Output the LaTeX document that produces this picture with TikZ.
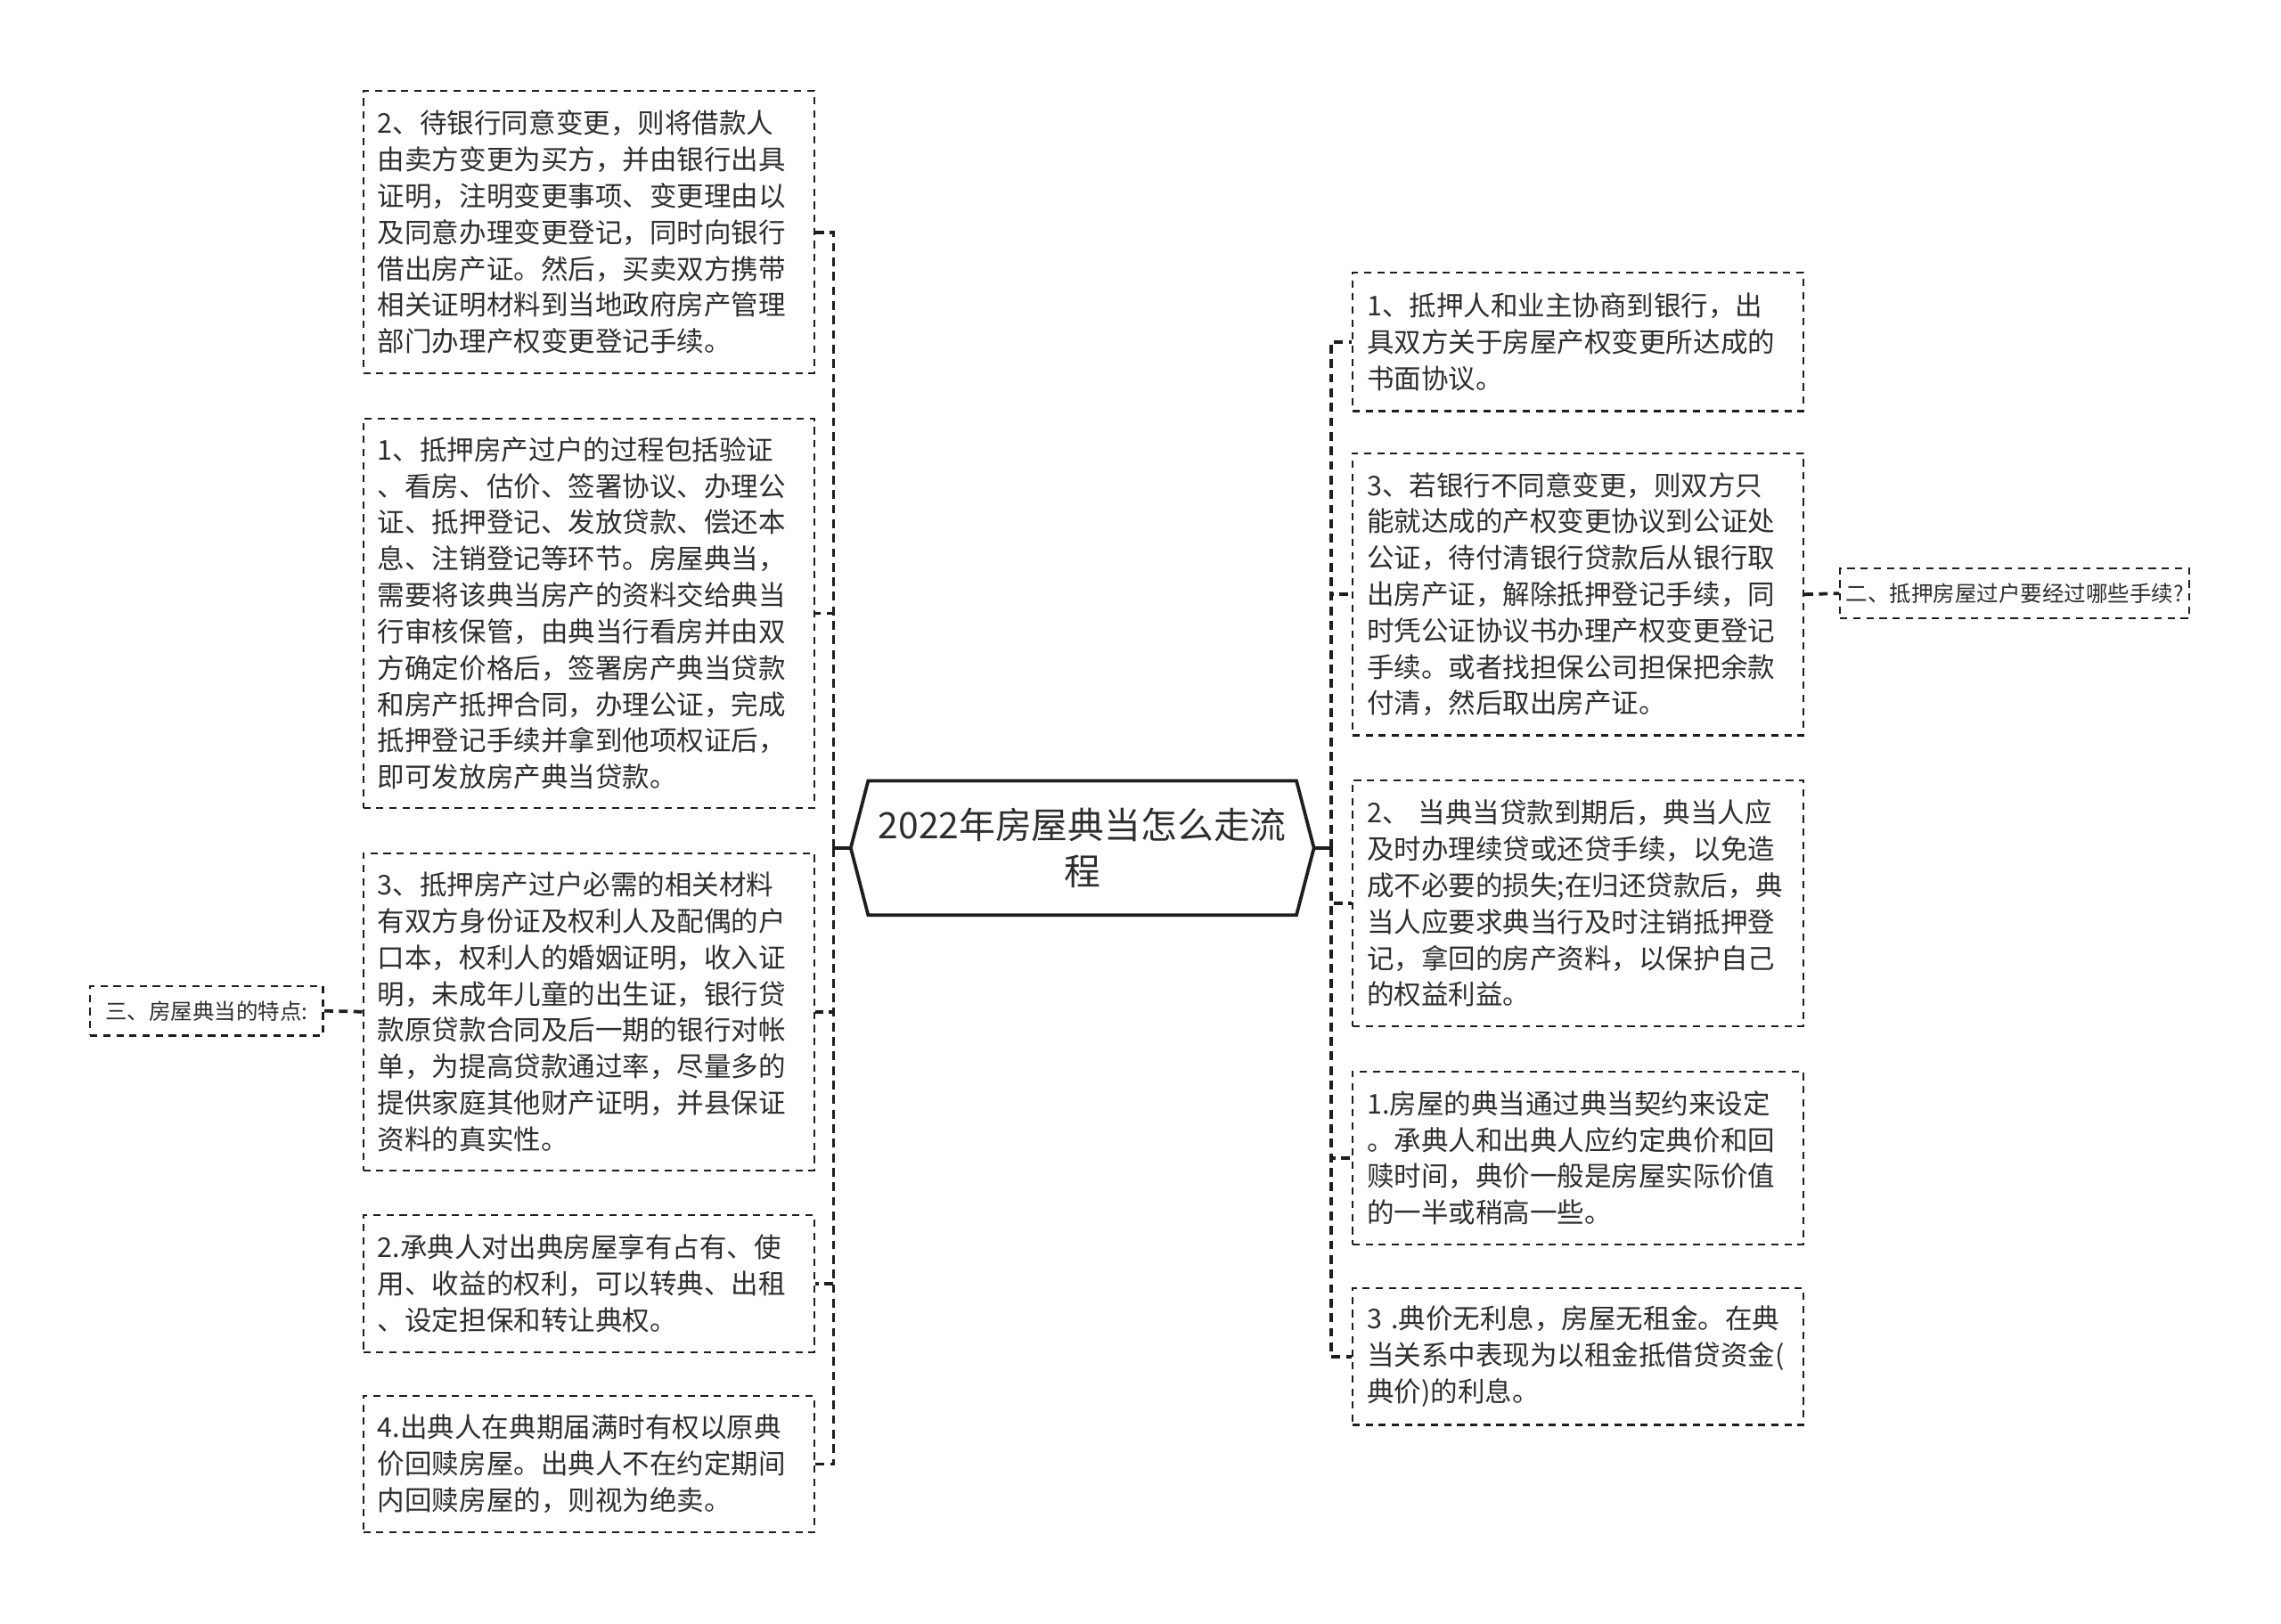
\documentclass[tikz,border=0pt]{standalone}
\usepackage{fontspec}
\setmainfont{Noto Sans CJK SC}
\definecolor{ink}{HTML}{2E2E2E}
\definecolor{edge}{HTML}{1E1E1E}

\begin{document}
\begin{tikzpicture}[x=1pt, y=-1pt,
    topic/.style={minimum width=294pt, minimum height=92pt, inner xsep=0pt, align=center, text=ink, font=\fontsize{25}{32}\selectfont},
    leaf/.style={draw=edge, line width=1.3pt, dash pattern=on 5pt off 4pt, anchor=north west, text width=290pt, inner xsep=10pt, inner ysep=0pt, minimum height=#1, align=left, text=ink, font=\fontsize{18.7}{25}\selectfont},
    tag/.style={draw=edge, line width=1.3pt, dash pattern=on 5pt off 4pt, minimum width=#1, minimum height=34pt, inner xsep=0pt, text=ink, font=\fontsize{15}{18}\selectfont},
    bus/.style={draw=edge, line width=2.3pt, dash pattern=on 6pt off 4pt},
    link/.style={draw=edge, line width=2.3pt}
]
    \useasboundingbox (0,0) rectangle (1568,1116);

    % 中心主题
    \node[topic] (ctr) at (744, 583) {2022年房屋典当怎么走流\\程};
    \coordinate (tipL) at ([xshift=-12pt]ctr.west);
    \coordinate (tipR) at ([xshift=12pt]ctr.east);
    \draw[link, line join=miter] (ctr.north west) -- (ctr.north east) -- (tipR) -- (ctr.south east) -- (ctr.south west) -- (tipL) -- cycle;

    % 左侧
    \node[leaf=194pt] (l1) at (249, 62) {2、待银行同意变更，则将借款人\\由卖方变更为买方，并由银行出具\\证明，注明变更事项、变更理由以\\及同意办理变更登记，同时向银行\\借出房产证。然后，买卖双方携带\\相关证明材料到当地政府房产管理\\部门办理产权变更登记手续。};
    \node[leaf=268pt] (l2) at (249, 287) {1、抵押房产过户的过程包括验证\\、看房、估价、签署协议、办理公\\证、抵押登记、发放贷款、偿还本\\息、注销登记等环节。房屋典当，\\需要将该典当房产的资料交给典当\\行审核保管，由典当行看房并由双\\方确定价格后，签署房产典当贷款\\和房产抵押合同，办理公证，完成\\抵押登记手续并拿到他项权证后，\\即可发放房产典当贷款。};
    \node[leaf=218pt] (l3) at (249, 586) {3、抵押房产过户必需的相关材料\\有双方身份证及权利人及配偶的户\\口本，权利人的婚姻证明，收入证\\明，未成年儿童的出生证，银行贷\\款原贷款合同及后一期的银行对帐\\单，为提高贷款通过率，尽量多的\\提供家庭其他财产证明，并县保证\\资料的真实性。};
    \node[leaf=94pt] (l4) at (249, 835) {2.承典人对出典房屋享有占有、使\\用、收益的权利，可以转典、出租\\、设定担保和转让典权。};
    \node[leaf=94pt] (l5) at (249, 959) {4.出典人在典期届满时有权以原典\\价回赎房屋。出典人不在约定期间\\内回赎房屋的，则视为绝卖。};
    \node[tag=160pt] (t3) at (142, 695) {三、房屋典当的特点:};

    % 右侧
    \node[leaf=95pt] (r1) at (929, 187) {1、抵押人和业主协商到银行，出\\具双方关于房屋产权变更所达成的\\书面协议。};
    \node[leaf=194pt] (r2) at (929, 311) {3、若银行不同意变更，则双方只\\能就达成的产权变更协议到公证处\\公证，待付清银行贷款后从银行取\\出房产证，解除抵押登记手续，同\\时凭公证协议书办理产权变更登记\\手续。或者找担保公司担保把余款\\付清，然后取出房产证。};
    \node[leaf=169pt] (r3) at (929, 536) {2、 当典当贷款到期后，典当人应\\及时办理续贷或还贷手续，以免造\\成不必要的损失;在归还贷款后，典\\当人应要求典当行及时注销抵押登\\记，拿回的房产资料，以保护自己\\的权益利益。};
    \node[leaf=119pt] (r4) at (929, 736) {1.房屋的典当通过典当契约来设定\\。承典人和出典人应约定典价和回\\赎时间，典价一般是房屋实际价值\\的一半或稍高一些。};
    \node[leaf=94pt] (r5) at (929, 885) {3 .典价无利息，房屋无租金。在典\\当关系中表现为以租金抵借贷资金(\\典价)的利息。};
    \node[tag=240pt] (t2) at (1385, 408) {二、抵押房屋过户要经过哪些手续?};

    % 连线
    \coordinate (lbus) at (573, 583);
    \coordinate (rbus) at (915, 583);
    \draw[link] (tipL) -- (lbus);
    \draw[link] (tipR) -- (rbus);
    \foreach \b in {l1,l2,l3,l4,l5}
        \draw[bus] (lbus) |- (\b.east);
    \foreach \b in {r1,r2,r3,r4,r5}
        \draw[bus] (rbus) |- (\b.west);
    \draw[bus] (l3.west) -- (t3.east);
    \draw[bus] (r2.east) -- (t2.west);

\end{tikzpicture}
\end{document}
